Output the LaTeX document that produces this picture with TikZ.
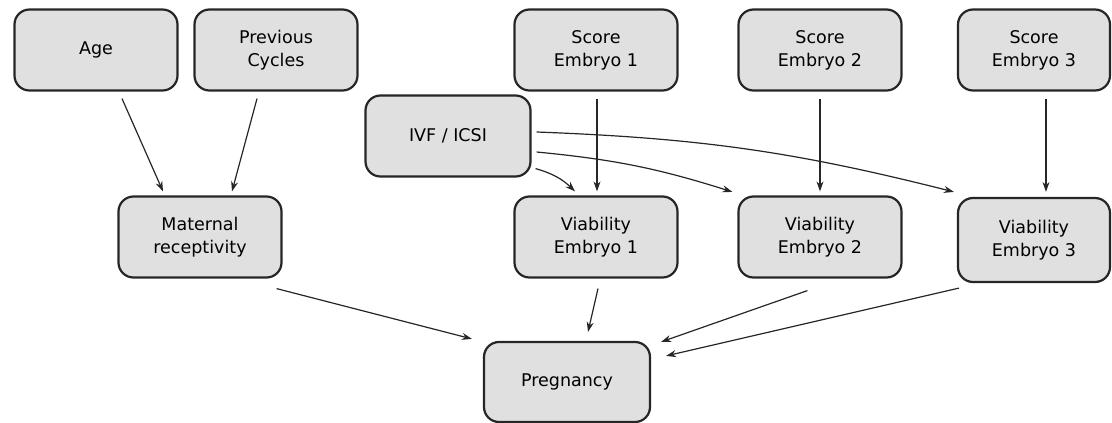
\documentclass[tikz,border=0pt]{standalone}
\usepackage{fontspec}
\setmainfont{DejaVu Sans}
\usetikzlibrary{arrows.meta}
\begin{document}
\begin{tikzpicture}[x=1pt,y=-1pt,
  box/.style={draw=black!85, line width=2.2pt, fill=black!12, rounded corners=15pt,
    minimum width=163pt, minimum height=81pt, align=center, font=\fontsize{17.5}{23}\selectfont, inner sep=0pt},
  arr/.style={-{Stealth[length=10pt,width=7pt]}, line width=1.2pt, draw=black!85}]
\useasboundingbox (0,0) rectangle (1112,423);
\node[box] (age) at (96,50) {Age};
\node[box] (prev) at (276,50) {Previous\\Cycles};
\node[box] (s1) at (596,50) {Score\\Embryo 1};
\node[box] (s2) at (820,50) {Score\\Embryo 2};
\node[box, minimum width=152pt] (s3) at (1034,50) {Score\\Embryo 3};
\node[box, minimum width=165pt] (ivf) at (448,136) {IVF / ICSI};
\node[box] (mat) at (200,237) {Maternal\\receptivity};
\node[box] (v1) at (596,237) {Viability\\Embryo 1};
\node[box] (v2) at (820,237) {Viability\\Embryo 2};
\node[box, minimum width=152pt, minimum height=84pt] (v3) at (1034,240) {Viability\\Embryo 3};
\node[box, minimum width=166pt, minimum height=80pt] (preg) at (567,382) {Pregnancy};

\draw[arr] ([shift={(26pt,-7pt)}]age.south) -- ([shift={(-37pt,4pt)}]mat.north);
\draw[arr] ([shift={(-19pt,-7pt)}]prev.south) -- ([shift={(32pt,4pt)}]mat.north);
\draw[arr] ([shift={(1pt,-7pt)}]s1.south) -- ([shift={(1pt,4pt)}]v1.north);
\draw[arr] ([shift={(0pt,-7pt)}]s2.south) -- ([shift={(0pt,4pt)}]v2.north);
\draw[arr] ([shift={(12pt,-7pt)}]s3.south) -- ([shift={(12pt,5pt)}]v3.north);
\draw[arr] ([shift={(4pt,9pt)}]ivf.south east) to[bend left=14] ([shift={(-21pt,4pt)}]v1.north);
\draw[arr] ([shift={(5pt,-16pt)}]ivf.east) to[bend left=6] ([shift={(-5pt,3.5pt)}]v2.north west);
\draw[arr] ([shift={(5pt,4pt)}]ivf.east) to[bend left=6] ([shift={(-3pt,5pt)}]v3.north west);
\draw[arr] ([shift={(-6pt,-10pt)}]mat.south east) -- ([shift={(-11pt,2pt)}]preg.north west);
\draw[arr] ([shift={(2pt,-10pt)}]v1.south) -- ([shift={(21pt,9pt)}]preg.north);
\draw[arr] ([shift={(70pt,-12pt)}]v2.south west) -- ([shift={(10pt,-1pt)}]preg.north east);
\draw[arr] ([shift={(2pt,-5pt)}]v3.south west) -- ([shift={(15pt,-15pt)}]preg.north east);
\end{tikzpicture}
\end{document}
